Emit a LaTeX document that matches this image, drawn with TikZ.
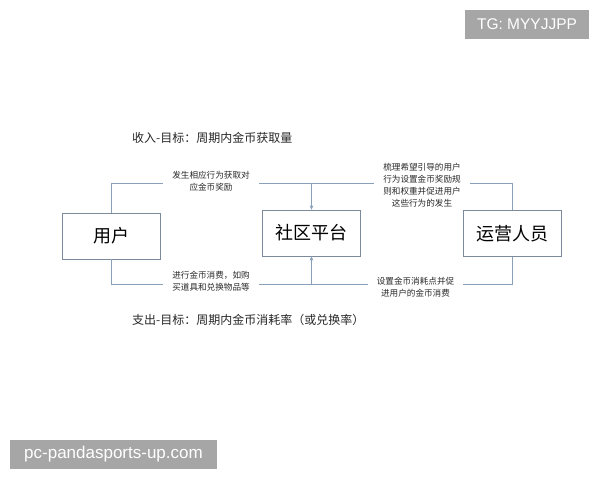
\documentclass[tikz,border=0pt]{standalone}
\usepackage{fontspec}
\setmainfont{Noto Sans CJK SC}
\newfontfamily\wmfont{Liberation Sans}
\usetikzlibrary{arrows.meta}
\definecolor{linec}{RGB}{138,160,186}
\definecolor{boxc}{RGB}{125,138,156}
\definecolor{txtc}{RGB}{40,40,40}
\definecolor{wmgray}{RGB}{166,166,166}
\tikzset{
  mainbox/.style={draw=boxc, line width=0.9pt, fill=white, minimum width=98pt, minimum height=46pt, inner sep=0pt, font=\fontsize{18}{20}\selectfont, text=black},
  conn/.style={draw=linec, line width=0.9pt},
  arr/.style={conn, -{Stealth[length=4pt,width=3.2pt]}},
  lbl/.style={fill=white, inner xsep=9pt, inner ysep=1pt, align=center, text=txtc, font=\fontsize{8.6}{12}\selectfont},
  title/.style={anchor=west, inner sep=0pt, text=txtc, font=\fontsize{12}{14}\selectfont},
  wm/.style={fill=wmgray, text=white, inner sep=0pt, font=\wmfont}
}
\begin{document}
\begin{tikzpicture}[x=1pt,y=-1pt]
\useasboundingbox[fill=white] (0,0) rectangle (600,480);

% boxes
\node[mainbox] (user) at (111,236) {用户};
\node[mainbox] (plat) at (311.5,233) {社区平台};
\node[mainbox] (oper) at (512.5,233.5) {运营人员};

% rails
\coordinate (ty) at (0,183);
\coordinate (by) at (0,284);

% connectors
\draw[arr] (user.north) -- (user.north |- ty) -- (plat.north |- ty) -- (plat.north);
\draw[arr] (oper.north) -- (oper.north |- ty) -- (plat.north |- ty) -- (plat.north);
\draw[arr] (user.south) -- (user.south |- by) -- (plat.south |- by) -- (plat.south);
\draw[arr] (oper.south) -- (oper.south |- by) -- (plat.south |- by) -- (plat.south);

% connector labels
\node[lbl] (l1) at (211,181.5) {发生相应行为获取对\\应金币奖励};
\node[lbl] (l2) at (422,185) {梳理希望引导的用户\\行为设置金币奖励规\\则和权重并促进用户\\这些行为的发生};
\node[lbl] (l3) at (211,281) {进行金币消费，如购\\买道具和兑换物品等};
\node[lbl] (l4) at (415.5,287.5) {设置金币消耗点并促\\进用户的金币消费};

% titles
\node[title] (t1) at (132,138) {收入-目标：周期内金币获取量};
\node[title] (t2) at (132,320) {支出-目标：周期内金币消耗率（或兑换率）};

% watermarks
\node[wm, minimum width=124pt, minimum height=29pt, font=\wmfont\fontsize{15.5}{17}\selectfont] (wm1) at (527,24.5) {TG: MYYJJPP};
\node[wm, minimum width=207pt, minimum height=29pt, font=\wmfont\fontsize{17}{19}\selectfont] (wm2) at (113.5,454.5) {pc-pandasports-up.com};
\end{tikzpicture}
\end{document}
